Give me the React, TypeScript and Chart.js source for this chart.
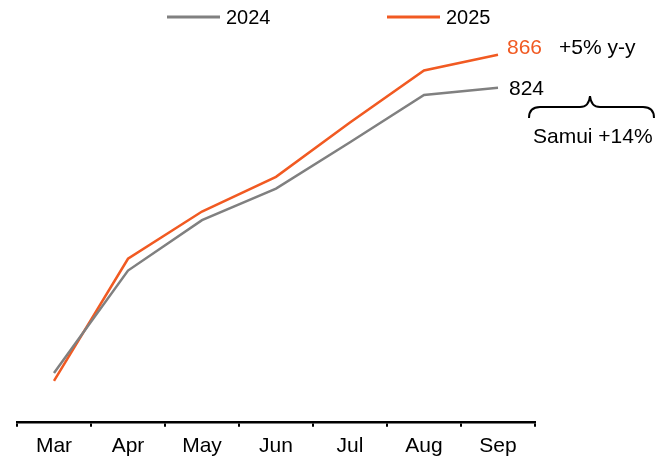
import React, { useEffect, useRef } from "react";
import { Chart, registerables } from "chart.js";

Chart.register(...registerables);

const categories = ["Mar", "Apr", "May", "Jun", "Jul", "Aug", "Sep"];
const series2024 = [462, 592, 656, 696, 755, 815, 824];
const series2025 = [452, 607, 667, 711, 780, 846, 866];
const seriesNames = ["2024", "2025"];
const yoyLabel = "+5% y-y";
const samuiLabel = "Samui +14%";
const yMin = 400;
const yMax = 900;

const GRAY = "#808080";
const ORANGE = "#f15a22";
const FONT = "'Liberation Sans', Arial, sans-serif";

const annotationPlugin = {
  id: "annotations",
  afterDraw(chart: any) {
    const ctx = chart.ctx as CanvasRenderingContext2D;
    const xs = chart.scales.x;
    const ys = chart.scales.y;
    const last = categories.length - 1;
    const px = xs.getPixelForValue(last);
    ctx.save();
    ctx.textBaseline = "middle";
    ctx.textAlign = "left";

    // legend
    ctx.font = `20px ${FONT}`;
    const legendY = 17;
    const items = [
      { name: seriesNames[0], color: GRAY, x: 167 },
      { name: seriesNames[1], color: ORANGE, x: 387 },
    ];
    items.forEach((it) => {
      ctx.strokeStyle = it.color;
      ctx.lineWidth = 3;
      ctx.beginPath();
      ctx.moveTo(it.x, legendY);
      ctx.lineTo(it.x + 53, legendY);
      ctx.stroke();
      ctx.fillStyle = "#000";
      ctx.fillText(it.name, it.x + 59, legendY + 1);
    });

    // end labels
    ctx.font = `21px ${FONT}`;
    const y25 = ys.getPixelForValue(series2025[last]) - 7;
    ctx.fillStyle = ORANGE;
    ctx.fillText(String(series2025[last]), px + 9, y25);
    ctx.fillStyle = "#000";
    ctx.fillText(yoyLabel, px + 61, y25);
    const y24 = ys.getPixelForValue(series2024[last]) + 1;
    ctx.fillText(String(series2024[last]), px + 11, y24);

    // brace
    ctx.strokeStyle = "#000";
    ctx.lineWidth = 2;
    ctx.beginPath();
    ctx.moveTo(529, 118);
    ctx.quadraticCurveTo(529, 107, 540, 107);
    ctx.lineTo(580, 107);
    ctx.quadraticCurveTo(589, 107, 590, 96);
    ctx.quadraticCurveTo(591, 107, 600, 107);
    ctx.lineTo(643, 107);
    ctx.quadraticCurveTo(654, 107, 654, 118);
    ctx.stroke();

    ctx.fillText(samuiLabel, 533, 137);
    ctx.restore();
  },
};

export default function App() {
  const ref = useRef<HTMLCanvasElement | null>(null);
  useEffect(() => {
    if (!ref.current) return;
    const chart = new Chart(ref.current, {
      type: "line",
      data: {
        labels: categories,
        datasets: [
          {
            label: seriesNames[0],
            data: series2024,
            borderColor: GRAY,
            backgroundColor: GRAY,
            borderWidth: 2.5,
            pointRadius: 0,
            tension: 0,
          },
          {
            label: seriesNames[1],
            data: series2025,
            borderColor: ORANGE,
            backgroundColor: ORANGE,
            borderWidth: 2.5,
            pointRadius: 0,
            tension: 0,
          },
        ],
      },
      options: {
        responsive: false,
        animation: false,
        events: [],
        layout: { padding: { left: 17, right: 135, top: 28, bottom: -7 } },
        plugins: { legend: { display: false }, tooltip: { enabled: false } },
        scales: {
          x: {
            offset: true,
            grid: {
              display: true,
              drawOnChartArea: false,
              drawTicks: true,
              tickLength: 5,
              color: "#000",
              lineWidth: 2,
              offset: true,
            },
            border: { display: true, color: "#000", width: 2.5 },
            ticks: {
              color: "#000",
              font: { family: FONT, size: 21 },
              padding: 7,
              maxRotation: 0,
              autoSkip: false,
            },
          },
          y: { display: false, min: yMin, max: yMax },
        },
      },
      plugins: [annotationPlugin],
    });
    return () => chart.destroy();
  }, []);
  return (
    <div style={{ position: "absolute", left: 0, top: 0, width: 670, height: 459, background: "#fff" }}>
      <canvas ref={ref} width={670} height={459} />
    </div>
  );
}
